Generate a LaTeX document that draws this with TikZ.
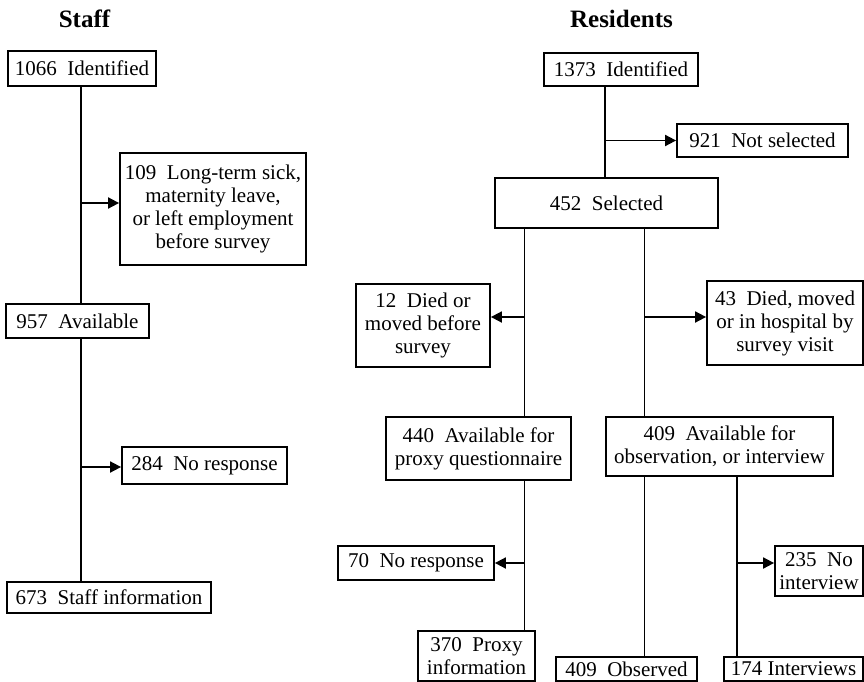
\documentclass[tikz,border=0pt]{standalone}
\usepackage{fontspec}
\setmainfont{Liberation Serif}
\usetikzlibrary{arrows.meta}

\begin{document}
\begin{tikzpicture}[
  x=1pt,
  y=-1pt,
  font=\fontsize{21}{23}\selectfont
]

  \tikzstyle{flowbox}=[draw,rectangle,line width=1.8pt,inner sep=0pt,align=center]
  \tikzstyle{headnode}=[font=\fontsize{25}{28}\selectfont\bfseries]
  \tikzstyle{trunk}=[draw,line width=1.8pt]
  \tikzstyle{branch}=[draw,line width=1.8pt,-{Triangle[length=11pt,width=11pt]}]

  \useasboundingbox (0,0) rectangle (864,682);

  % headings
  \node[headnode] (staffhead) at (84.5,19) {Staff};
  \node[headnode] (reshead)   at (621.5,19) {Residents};

  % staff column
  \node[flowbox,minimum width=148,minimum height=35] (s1) at (82,68.5) {1066\enspace Identified};
  \node[flowbox,minimum width=186,minimum height=112] (s2) at (213,209)
    {109\enspace Long-term sick,\\maternity leave,\\or left employment\\before survey};
  \node[flowbox,minimum width=143,minimum height=34] (s3) at (77.5,321) {957\enspace Available};
  \node[flowbox,minimum width=165,minimum height=37] (s4) at (204.5,465.5) {284\enspace No response};
  \node[flowbox,minimum width=204,minimum height=31] (s5) at (109,597.5) {673\enspace Staff information};

  % residents column
  \node[flowbox,minimum width=154,minimum height=33] (r1) at (621,69.5) {1373\enspace Identified};
  \node[flowbox,minimum width=171,minimum height=33] (r2) at (762.5,140.5) {921\enspace Not selected};
  \node[flowbox,minimum width=223,minimum height=50] (r3) at (606.5,203) {452\enspace Selected};
  \node[flowbox,minimum width=134,minimum height=83] (r4) at (423,325.5)
    {12\enspace Died or\\moved before\\survey};
  \node[flowbox,minimum width=156,minimum height=84] (r5) at (785,323)
    {43\enspace Died, moved\\or in hospital by\\survey visit};
  \node[flowbox,minimum width=185,minimum height=63] (r6) at (478.5,448.5)
    {440\enspace Available for\\proxy questionnaire};
  \node[flowbox,minimum width=227,minimum height=59] (r7) at (719.5,446.5)
    {409\enspace Available for\\observation, or interview};
  \node[flowbox,minimum width=156,minimum height=34] (r8) at (416,563) {70\enspace No response};
  \node[flowbox,minimum width=88,minimum height=50] (r12) at (819,571) {235\enspace No\\interview};
  \node[flowbox,minimum width=117,minimum height=50] (r9) at (476.5,656) {370\enspace Proxy\\information};
  \node[flowbox,minimum width=141,minimum height=24] (r10) at (626.5,669) {409\enspace Observed};
  \node[flowbox,minimum width=139,minimum height=24] (r11) at (793.5,669) {174 Interviews};

  % trunk positions
  \coordinate (sx) at (81,0);
  \coordinate (rx) at (605,0);
  \coordinate (px) at (524.5,0);
  \coordinate (ox) at (644.5,0);
  \coordinate (ix) at (737,0);

  % staff lines
  \draw[trunk] (s1.south -| sx) -- (s3.north -| sx);
  \draw[trunk] (s3.south -| sx) -- (s5.north -| sx);
  \coordinate (sb1) at (81,203);
  \coordinate (sb2) at (81,467);
  \draw[branch] (sb1) -- (s2.west |- sb1);
  \draw[branch] (sb2) -- (s4.west |- sb2);

  % residents lines
  \draw[trunk] (r1.south -| rx) -- (r3.north -| rx);
  \coordinate (rb1) at (605,140.5);
  \draw[branch] (rb1) -- (r2.west);

  \draw[trunk] (r3.south -| px) -- (r6.north -| px);
  \draw[trunk] (r3.south -| ox) -- (r7.north -| ox);
  \coordinate (rb2) at (524.5,317);
  \coordinate (rb3) at (644.5,317);
  \draw[branch] (rb2) -- (r4.east |- rb2);
  \draw[branch] (rb3) -- (r5.west |- rb3);

  \draw[trunk] (r6.south -| px) -- (r9.north -| px);
  \coordinate (rb4) at (524.5,563);
  \draw[branch] (rb4) -- (r8.east);

  \draw[trunk] (r7.south -| ox) -- (r10.north -| ox);
  \draw[trunk] (r7.south -| ix) -- (r11.north -| ix);
  \coordinate (rb5) at (737,563);
  \draw[branch] (rb5) -- (r12.west |- rb5);

\end{tikzpicture}
\end{document}
